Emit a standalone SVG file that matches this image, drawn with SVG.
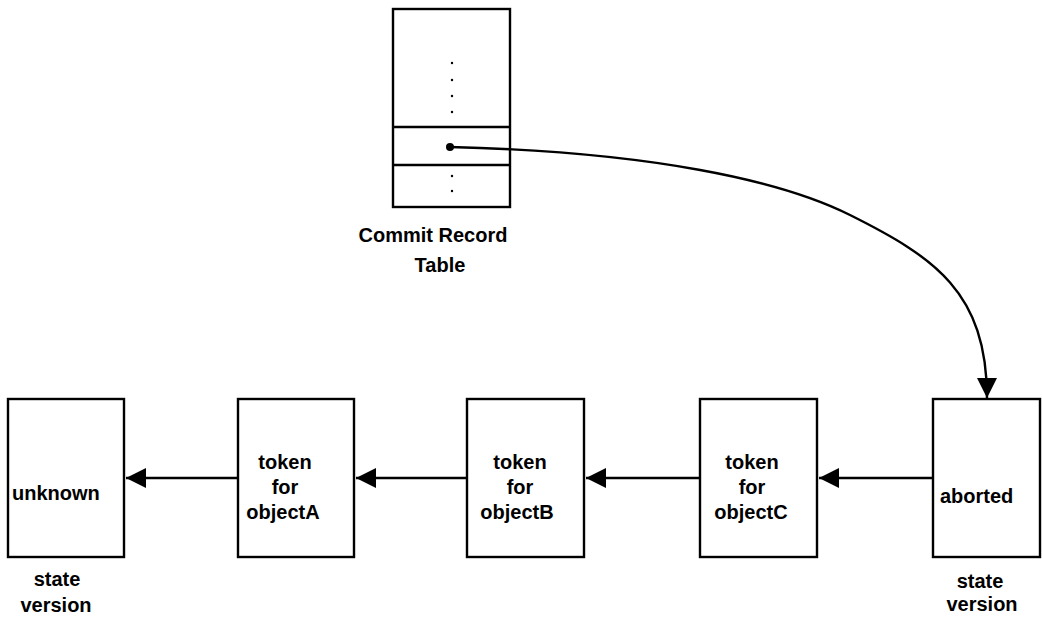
<svg xmlns="http://www.w3.org/2000/svg" width="1042" height="618" viewBox="0 0 1042 618">
<style>
.box{fill:#fff;stroke:#000;stroke-width:2.4}
.ln{fill:none;stroke:#000;stroke-width:2.4}
.t{font-family:"Liberation Sans",Arial,sans-serif;font-size:20px;font-weight:bold;fill:#000}
.c{text-anchor:middle}
.dot{fill:#000}
</style>
<defs>
<marker id="ah" markerWidth="20" markerHeight="20" refX="20" refY="10" orient="auto" markerUnits="userSpaceOnUse">
<path d="M0,0 L20,10 L0,20 Z" fill="#000"/>
</marker>
</defs>
<rect width="1042" height="618" fill="#fff"/>
<g id="commit-table">
<rect class="box" x="393" y="9" width="117" height="198"/>
<line class="ln" x1="393" y1="127" x2="510" y2="127"/>
<line class="ln" x1="393" y1="165" x2="510" y2="165"/>
<circle class="dot" cx="452" cy="63" r="1.2"/>
<circle class="dot" cx="452" cy="80" r="1.2"/>
<circle class="dot" cx="452" cy="96" r="1.2"/>
<circle class="dot" cx="452" cy="112" r="1.2"/>
<circle class="dot" cx="452" cy="176" r="1.2"/>
<circle class="dot" cx="452" cy="191" r="1.2"/>
<circle class="dot" cx="450" cy="147" r="4"/>
<text class="t c" x="433" y="242">Commit Record</text>
<text class="t c" x="440" y="272">Table</text>
</g>
<g id="node-unknown">
<rect class="box" x="8" y="399" width="116" height="158"/>
<text class="t" x="12" y="500">unknown</text>
<text class="t c" x="57" y="586">state</text>
<text class="t c" x="56" y="612">version</text>
</g>
<g id="node-objectA">
<rect class="box" x="238" y="399" width="116" height="158"/>
<text class="t c" x="285" y="469">token</text>
<text class="t c" x="285" y="494">for</text>
<text class="t c" x="283" y="519">objectA</text>
</g>
<g id="node-objectB">
<rect class="box" x="467" y="399" width="117" height="158"/>
<text class="t c" x="520" y="469">token</text>
<text class="t c" x="520" y="494">for</text>
<text class="t c" x="517" y="519">objectB</text>
</g>
<g id="node-objectC">
<rect class="box" x="700" y="399" width="117" height="158"/>
<text class="t c" x="752" y="469">token</text>
<text class="t c" x="752" y="494">for</text>
<text class="t c" x="751" y="519">objectC</text>
</g>
<g id="node-aborted">
<rect class="box" x="933" y="399" width="107" height="158"/>
<text class="t" x="940" y="503">aborted</text>
<text class="t c" x="980" y="588">state</text>
<text class="t c" x="982" y="611">version</text>
</g>
<g id="connectors">
<line class="ln" x1="238" y1="478" x2="126" y2="478" marker-end="url(#ah)"/>
<line class="ln" x1="467" y1="478" x2="356" y2="478" marker-end="url(#ah)"/>
<line class="ln" x1="700" y1="478" x2="586" y2="478" marker-end="url(#ah)"/>
<line class="ln" x1="933" y1="478" x2="819" y2="478" marker-end="url(#ah)"/>
<path class="ln" d="M450,147 C650,152 780,180 850,215 C934,257 987,292 987,398" marker-end="url(#ah)"/>
</g>
</svg>
